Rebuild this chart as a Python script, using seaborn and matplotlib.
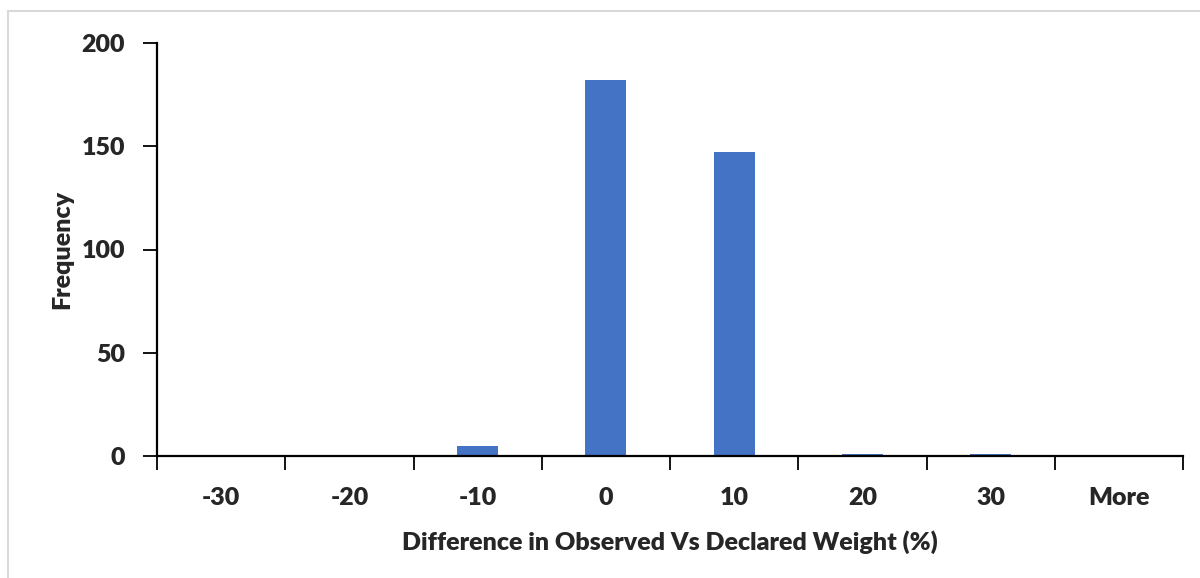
import matplotlib
matplotlib.use("Agg")
import matplotlib.pyplot as plt
import seaborn as sns
import pandas as pd
from matplotlib.patches import Rectangle

categories = ["-30", "-20", "-10", "0", "10", "20", "30", "More"]
frequency = [0, 0, 5, 182, 147, 1, 1, 0]
y_ticks = [0, 50, 100, 150, 200]

sns.set_style("white")
plt.rcParams['font.family'] = ['Lato', 'DejaVu Sans']
FW = 'heavy'

df = pd.DataFrame({"bin": categories, "freq": frequency})

W, H = 1200, 578
fig = plt.figure(figsize=(W / 100, H / 100), dpi=100)
ax = fig.add_axes([157 / W, 1 - 456 / H, (1183 - 157) / W, (456 - 43) / H])

sns.barplot(data=df, x="bin", y="freq", order=categories, color="#4472C4",
            saturation=1, width=0.32, ax=ax, edgecolor="none")

ax.set_xlim(-0.5, len(categories) - 0.5)
ax.set_ylim(0, 200)
ax.set_yticks(y_ticks)
ax.set_yticklabels([str(v) for v in y_ticks], fontsize=18, fontweight=FW)
ax.set_xticks(range(len(categories)))
ax.set_xticklabels(categories, fontsize=18, fontweight=FW)
ax.set_xticks([i - 0.5 for i in range(len(categories) + 1)], minor=True)
ax.tick_params(axis='x', which='both', bottom=True)
ax.tick_params(axis='y', which='major', left=True)
ax.tick_params(axis='x', which='major', length=0, pad=22)
ax.tick_params(axis='x', which='minor', length=10, width=1.3, color='black', direction='out')
ax.tick_params(axis='y', which='major', length=10, width=1.3, color='black', direction='out', pad=13)

for s in ["top", "right"]:
    ax.spines[s].set_visible(False)
for s in ["left", "bottom"]:
    ax.spines[s].set_color("black")
    ax.spines[s].set_linewidth(1.6)

ax.set_xlabel("Difference in Observed Vs Declared Weight (%)", fontsize=18, fontweight=FW, labelpad=16)
ax.set_ylabel("Frequency", fontsize=18, fontweight=FW, labelpad=6)

fig.patches.append(Rectangle((8 / W, -0.01), 1.02, 1 - 10.5 / H + 0.01, transform=fig.transFigure,
                             fill=False, edgecolor="#d9d9d9", linewidth=1.5))

fig.savefig("out.png", dpi=100, facecolor="white")
